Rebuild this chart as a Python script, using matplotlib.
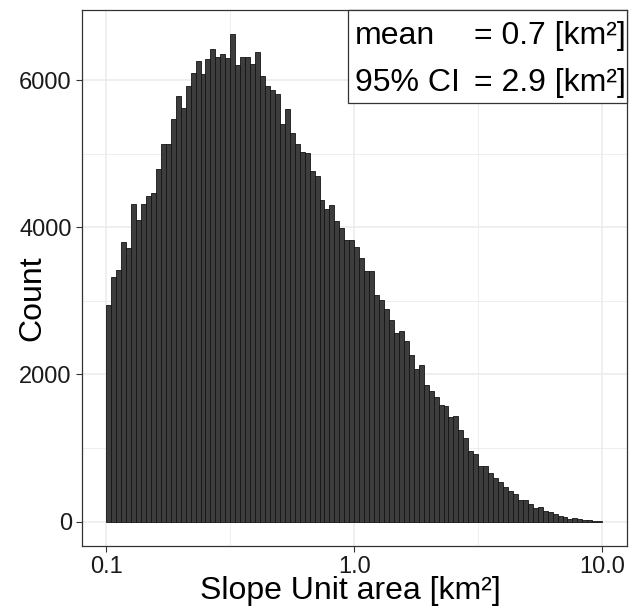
import numpy as np
import matplotlib
matplotlib.use("Agg")
import matplotlib.pyplot as plt
from matplotlib.patches import Rectangle

plt.rcParams['font.family'] = ['Liberation Sans', 'DejaVu Sans']

# ---- data (counts per log-spaced bin, 100 bins from 0.1 to 10 km²) ----
bin_min = 0.1
bin_max = 10.0
counts = [
    2950, 3324, 3424, 3796, 3714, 4313, 4095, 4322, 4422, 4467,
    4785, 5134, 5134, 5465, 5782, 5619, 5918, 6091, 6254, 6077,
    6290, 6417, 6313, 6354, 6295, 6621, 6200, 6313, 6313, 6222,
    6381, 6054, 5918, 5864, 5805, 5397, 5610, 5274, 5125, 5020,
    5011, 4771, 4694, 4367, 4249, 4299, 4082, 3991, 3823, 3832,
    3732, 3578, 3401, 3401, 3084, 3016, 2889, 2744, 2562, 2585,
    2458, 2259, 2080, 2125, 1850, 1773, 1691, 1582, 1577, 1418,
    1441, 1250, 1136, 964, 923, 759, 759, 659, 595, 532,
    468, 414, 377, 300, 292, 241, 185, 205, 140, 132,
    105, 75, 60, 40, 48, 32, 27, 20, 14, 10,
]
x_ticks = [0.1, 1.0, 10.0]
x_tick_labels = ["0.1", "1.0", "10.0"]
y_ticks = [0, 2000, 4000, 6000]
y_tick_labels = ["0", "2000", "4000", "6000"]
stat_names = ["mean", "95% CI"]
stat_values = ["= 0.7 [km²]", "= 2.9 [km²]"]
x_title = "Slope Unit area [km²]"
y_title = "Count"

W, H = 637, 608
fig = plt.figure(figsize=(W / 100, H / 100), dpi=100)
left, right, top, bottom = 81.5, 627, 10, 546
ax = fig.add_axes([left / W, 1 - bottom / H, (right - left) / W, (bottom - top) / H])

edges = np.logspace(np.log10(bin_min), np.log10(bin_max), len(counts) + 1)
ax.bar(edges[:-1], counts, width=np.diff(edges), align='edge',
       facecolor='#3d3d3d', edgecolor='#141414', linewidth=0.6, zorder=2)

ax.set_xscale('log')
lo, hi = np.log10(bin_min), np.log10(bin_max)
pad = 0.05 * (hi - lo)
ax.set_xlim(10 ** (lo - pad), 10 ** (hi + pad))
ymax = max(counts)
ax.set_ylim(-0.05 * ymax, 1.05 * ymax)

ax.set_xticks(x_ticks)
ax.set_xticklabels(x_tick_labels)
ax.set_xticks([10 ** -0.5, 10 ** 0.5], minor=True)
ax.set_yticks(y_ticks)
ax.set_yticklabels(y_tick_labels)
ax.set_yticks([1000, 3000, 5000], minor=True)
ax.xaxis.set_minor_formatter(plt.NullFormatter())

ax.grid(True, which='major', color='#ebebeb', linewidth=1.1, zorder=0)
ax.grid(True, which='minor', color='#ebebeb', linewidth=0.6, zorder=0)
ax.set_axisbelow(True)
ax.tick_params(which='major', length=4.5, width=0.8, color='#333333',
               labelsize=17, labelcolor='#1a1a1a', pad=2.5)
ax.tick_params(which='minor', length=0)
for s in ax.spines.values():
    s.set_color('#333333')
    s.set_linewidth(0.9)

fig.text(350 / W, 1 - 591 / H, x_title, ha='center', va='center', fontsize=23)
fig.text(32 / W, 1 - 298 / H, y_title, ha='center', va='center', fontsize=23, rotation=90)

# stats box
bx0 = (348 - left) / (right - left)
by0 = (bottom - 103) / (bottom - top)
ax.add_patch(Rectangle((bx0, by0), 1 - bx0, 1 - by0, transform=ax.transAxes,
                       facecolor='white', edgecolor='#333333', linewidth=0.9,
                       zorder=5, clip_on=False))
baselines = [44, 91]
for name, val, yb in zip(stat_names, stat_values, baselines):
    yf = 1 - yb / H
    fig.text(355 / W, yf, name, ha='left', va='baseline', fontsize=23, zorder=6)
    fig.text(474 / W, yf, val, ha='left', va='baseline', fontsize=23, zorder=6)

fig.savefig('out.png', dpi=100, facecolor='white')
